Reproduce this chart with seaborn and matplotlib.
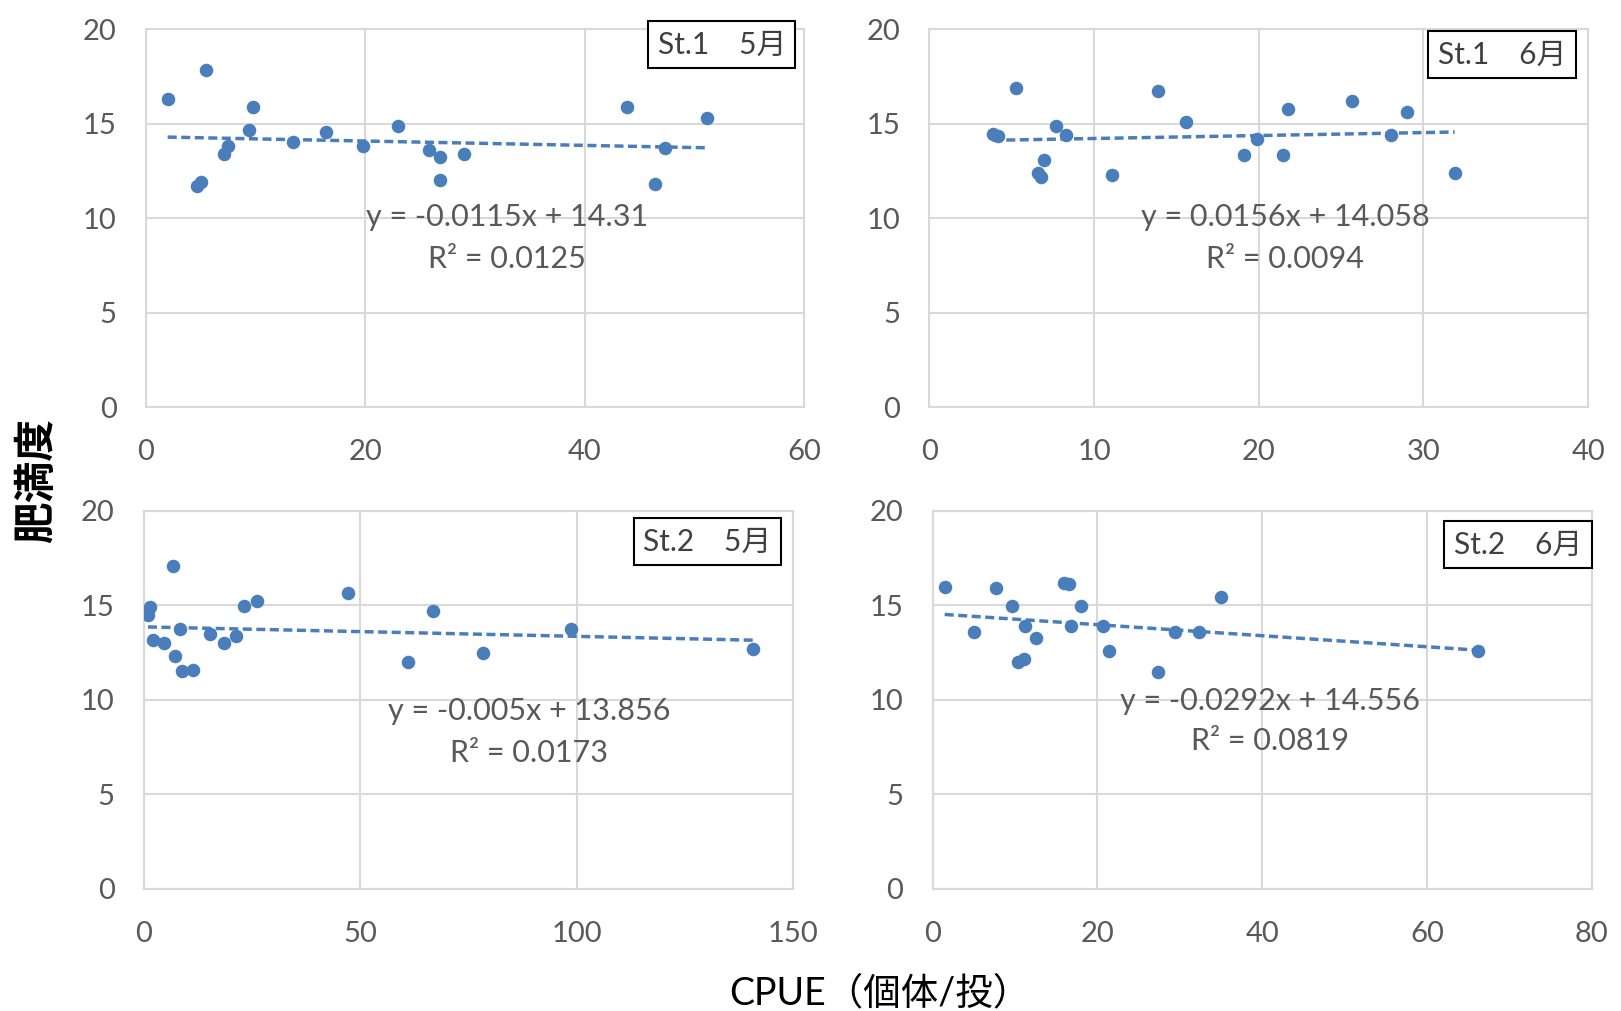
import numpy as np
import pandas as pd
import matplotlib
matplotlib.use('Agg')
import matplotlib.pyplot as plt
import seaborn as sns

sns.set_style('white')
plt.rcParams['font.family'] = ['Lato', 'Noto Sans CJK JP']

# ---- data ----
panel_labels = ['St.1\u30005月', 'St.1\u30006月', 'St.2\u30005月', 'St.2\u30006月']

st1_may_x = [2.0, 5.45, 4.7, 5.06, 7.1, 7.5, 9.4, 9.8, 13.4, 16.4, 19.8, 23.0, 25.85,
             26.8, 26.8, 29.0, 43.8, 46.4, 47.3, 51.1]
st1_may_y = [16.3, 17.85, 11.68, 11.9, 13.4, 13.8, 14.68, 15.86, 14.04, 14.54, 13.8, 14.85,
             13.62, 13.23, 12.02, 13.41, 15.9, 11.79, 13.71, 15.3]

st1_jun_x = [3.85, 4.16, 5.24, 7.69, 8.27, 6.96, 6.59, 6.8, 11.07, 13.86, 15.57, 19.08,
             19.9, 21.5, 21.77, 25.67, 28.06, 29.0, 31.9]
st1_jun_y = [14.45, 14.33, 16.86, 14.9, 14.41, 13.09, 12.39, 12.18, 12.3, 16.7, 15.07, 13.34,
             14.19, 13.34, 15.79, 16.19, 14.4, 15.63, 12.4]

st2_may_x = [0.97, 1.55, 6.8, 2.2, 4.6, 8.3, 7.2, 8.9, 11.3, 15.4, 18.5, 21.4, 23.1, 26.2,
             47.1, 61.0, 66.8, 78.4, 98.7, 140.8]
st2_may_y = [14.5, 14.9, 17.1, 13.17, 13.0, 13.72, 12.3, 11.5, 11.6, 13.5, 13.0, 13.35, 14.95,
             15.2, 15.65, 12.0, 14.7, 12.45, 13.77, 12.7]

st2_jun_x = [1.47, 7.7, 5.05, 9.58, 11.16, 12.6, 10.4, 11.05, 15.9, 16.6, 17.95, 16.84, 20.7,
             21.4, 27.4, 29.4, 32.3, 35.05, 66.2]
st2_jun_y = [15.99, 15.92, 13.56, 14.94, 13.9, 13.28, 12.0, 12.16, 16.2, 16.1, 14.94, 13.92,
             13.92, 12.6, 11.45, 13.56, 13.56, 15.46, 12.6]

trend_slopes = [-0.0115, 0.0156, -0.005, -0.0292]
trend_intercepts = [14.31, 14.058, 13.856, 14.556]
eq_texts = ['y = -0.0115x + 14.31', 'y = 0.0156x + 14.058', 'y = -0.005x + 13.856', 'y = -0.0292x + 14.556']
r2_texts = ['R² = 0.0125', 'R² = 0.0094', 'R² = 0.0173', 'R² = 0.0819']

x_ticks = [[0, 20, 40, 60], [0, 10, 20, 30, 40], [0, 50, 100, 150], [0, 20, 40, 60, 80]]
y_ticks = [0, 5, 10, 15, 20]

xs = [st1_may_x, st1_jun_x, st2_may_x, st2_jun_x]
ys = [st1_may_y, st1_jun_y, st2_may_y, st2_jun_y]

# ---- layout ----
W, H = 1621, 1011
fig = plt.figure(figsize=(W / 100, H / 100), dpi=100)

rects = [
    (0.0899, 0.597, 0.4063, 0.3743),
    (0.5733, 0.597, 0.4064, 0.3743),
    (0.0887, 0.1207, 0.4005, 0.3742),
    (0.5753, 0.1207, 0.4068, 0.3742),
]
eq_pos = [(0.548, 0.503, 0.393), (0.54, 0.503, 0.393), (0.594, 0.47, 0.36), (0.511, 0.497, 0.39)]
# (right x, center y) of label boxes in axes fraction
box_pos = [(0.972, 0.958), (0.967, 0.933), (0.967, 0.918), (0.985, 0.910)]

blue = '#4a7ebb'
grid_c = '#d9d9d9'
txt_c = '#595959'

for i in range(4):
    ax = fig.add_axes(rects[i])
    df = pd.DataFrame({'x': xs[i], 'y': ys[i]})
    sns.scatterplot(data=df, x='x', y='y', ax=ax, color=blue, s=95, edgecolor=blue,
                    linewidth=0, zorder=3, legend=False)
    xl = np.array([min(xs[i]), max(xs[i])])
    tl = pd.DataFrame({'x': xl, 'y': trend_slopes[i] * xl + trend_intercepts[i]})
    sns.lineplot(data=tl, x='x', y='y', ax=ax, color=blue, lw=2.5,
                 linestyle=(0, (2.6, 1.3)), zorder=2)
    ax.set_xlim(x_ticks[i][0], x_ticks[i][-1])
    ax.set_ylim(0, 20)
    ax.set_xticks(x_ticks[i])
    ax.set_yticks(y_ticks)
    ax.grid(True, color=grid_c, lw=1.5, zorder=0)
    ax.set_axisbelow(True)
    for s in ax.spines.values():
        s.set_color(grid_c)
        s.set_linewidth(1.5)
    ax.tick_params(length=0, labelsize=21, labelcolor=txt_c, pad=21)
    ax.tick_params(axis='x', pad=23)
    ax.set_xlabel('')
    ax.set_ylabel('')
    ex, ey1, ey2 = eq_pos[i]
    ax.text(ex, ey1, eq_texts[i], transform=ax.transAxes, ha='center', va='center',
            fontsize=22, color=txt_c, zorder=4)
    ax.text(ex, ey2, r2_texts[i], transform=ax.transAxes, ha='center', va='center',
            fontsize=22, color=txt_c, zorder=4)
    bx, by = box_pos[i]
    ax.text(bx, by, panel_labels[i], transform=ax.transAxes, ha='right', va='center',
            fontsize=21.5, color='#404040', zorder=5, clip_on=False,
            bbox=dict(boxstyle='square,pad=0.32', facecolor='white', edgecolor='black', lw=1.5))

fig.text(36 / W, 1 - 465 * 1.0338 / H, '肥満度', rotation=90, ha='center', va='center',
         fontsize=30, fontweight='bold', color='black')
fig.text(880 / W, 1 - 993 / H, 'CPUE（個体/投）', ha='center', va='center',
         fontsize=27, color='black')

fig.savefig('out.png', dpi=100, facecolor='white')
